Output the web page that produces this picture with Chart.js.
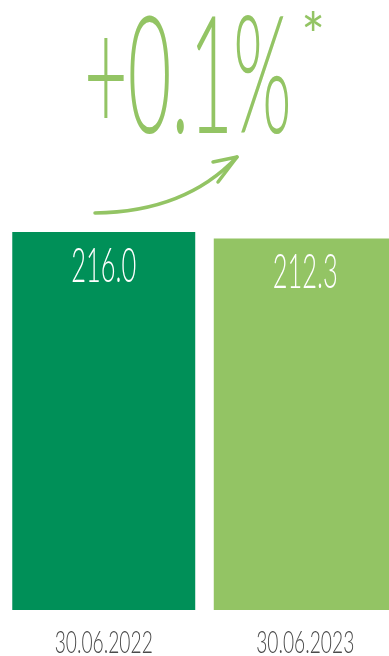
<!DOCTYPE html>
<html lang="en">
<head>
  <meta charset="UTF-8">
  <title>Change</title>
  <script src="https://cdn.jsdelivr.net/npm/chart.js"></script>
  <style>
    html, body { margin: 0; padding: 0; background: #fff; overflow: hidden; }
    #wrap { width: 389px; height: 656px; overflow: hidden; position: relative; }
    #box { width: 406px; height: 656px; position: absolute; left: 0; top: 0; }
  </style>
</head>
<body>
  <div id="wrap"><div id="box"><canvas id="barChart"></canvas></div></div>

  <script>
    // chart data
    const dates = ['30.06.2022', '30.06.2023'];
    const values = [216.0, 212.3];
    const barColors = ['#009058', '#93C464'];
    const headline = '+0.1%';

    const darkGrey = '#4a4a4a';
    const lightGreen = '#93C464';

    // draw text squeezed horizontally, the original uses a condensed light face
    function squeezed(ctx, text, x, y, size, sx, color, align, weight) {
      ctx.save();
      ctx.font = (weight || '300') + ' ' + size + 'px Lato';
      ctx.fillStyle = color;
      ctx.textBaseline = 'alphabetic';
      ctx.textAlign = align || 'center';
      ctx.translate(x, y);
      ctx.scale(sx, 1);
      ctx.fillText(text, 0, 0);
      ctx.restore();
    }

    const decorations = {
      id: 'decorations',
      afterDraw(chart) {
        const ctx = chart.ctx;
        const xs = chart.scales.x;
        const bars = chart.getDatasetMeta(0).data;

        // values inside bars
        bars.forEach((bar, i) => {
          squeezed(ctx, values[i].toFixed(1), bar.x, bar.y + 50, 48, 0.53, '#ffffff');
        });

        // dates under bars
        dates.forEach((d, i) => {
          squeezed(ctx, d, xs.getPixelForValue(i), 653, 32, 0.6, darkGrey);
        });

        // big headline
        squeezed(ctx, headline, 84, 133, 164, 0.46, lightGreen, 'left');
        squeezed(ctx, '*', 313, 58, 62, 0.9, lightGreen, 'center', '400');

        // curved arrow
        ctx.save();
        ctx.strokeStyle = lightGreen;
        ctx.lineWidth = 3.5;
        ctx.lineCap = 'round';
        ctx.lineJoin = 'round';
        ctx.beginPath();
        ctx.moveTo(95, 213);
        ctx.quadraticCurveTo(185, 212, 237, 157);
        ctx.stroke();
        ctx.beginPath();
        ctx.moveTo(213, 162);
        ctx.lineTo(237, 157);
        ctx.lineTo(218, 182);
        ctx.stroke();
        ctx.restore();
      }
    };

    const ctx = document.getElementById('barChart').getContext('2d');
    new Chart(ctx, {
      type: 'bar',
      data: {
        labels: dates,
        datasets: [{
          data: values,
          backgroundColor: barColors,
          borderWidth: 0,
          barPercentage: 0.908,
          categoryPercentage: 1.0
        }]
      },
      options: {
        responsive: true,
        maintainAspectRatio: false,
        animation: false,
        layout: { padding: { left: 3, right: 0, top: 22, bottom: 46 } },
        plugins: {
          legend: { display: false },
          tooltip: { enabled: false }
        },
        scales: {
          x: { display: false },
          y: { display: false, min: 0, max: 336 }
        }
      },
      plugins: [decorations]
    });
  </script>
</body>
</html>
